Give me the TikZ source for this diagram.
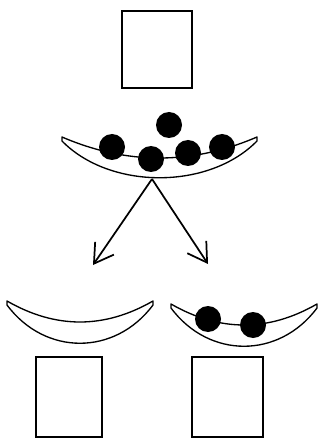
\documentclass[tikz,border=0pt]{standalone}
\usetikzlibrary{arrows.meta}
\begin{document}
\begin{tikzpicture}[x=0.75pt, y=-0.75pt,
  box/.style={draw, line width=1.2pt, inner sep=0pt},
  ball/.style={circle, fill=black, inner sep=0pt, minimum size=19.5pt},
  bowl/.style={draw, fill=white, line width=1pt, line join=round},
  split/.style={line width=1.3pt, -{Straight Barb[length=14pt, width=17pt]}}]

\useasboundingbox (0,0) rectangle (320,441);

% boxes
\path (157,49.5) node[box, minimum width=52.5pt, minimum height=57.75pt] (top box) {};
\path (69,397) node[box, minimum width=49.5pt, minimum height=60pt] (left box) {};
\path (227.5,397) node[box, minimum width=53.25pt, minimum height=60pt] (right box) {};

% bowls
\draw[bowl] (62,137) .. controls (127,165) and (192,165) .. (257,137) -- (257,141)
  .. controls (209,190) and (110,190) .. (62,141) -- cycle;
\draw[bowl] (7,301) .. controls (55.7,329) and (104.3,329) .. (153,301) -- (153,305)
  .. controls (115,356) and (45,356) .. (7,305) -- cycle;
\draw[bowl] (171,304) .. controls (219.7,332) and (268.3,332) .. (317,304) -- (317,308)
  .. controls (279,359) and (209,359) .. (171,308) -- cycle;

% balls
\path (112,147) node[ball] (b1) {};
\path (169,125) node[ball] (b2) {};
\path (151,159) node[ball] (b3) {};
\path (188,153) node[ball] (b4) {};
\path (222,147) node[ball] (b5) {};
\path (208,319) node[ball] (b6) {};
\path (253,325) node[ball] (b7) {};

% arrows
\coordinate (fork) at (152,179);
\coordinate (left end) at (93,265);
\coordinate (right end) at (208,264);
\draw[split] (fork) -- (left end);
\draw[split] (fork) -- (right end);

\end{tikzpicture}
\end{document}
